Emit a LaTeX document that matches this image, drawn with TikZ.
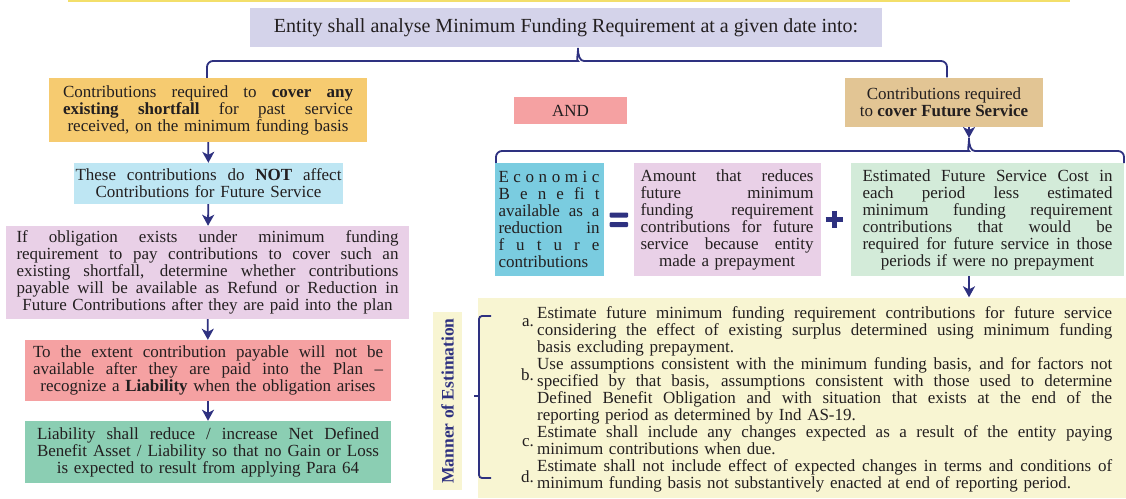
\documentclass[tikz,border=0pt]{standalone}
\usepackage{fontspec}
\setmainfont{Liberation Serif}
\usetikzlibrary{arrows.meta}
\definecolor{navy}{HTML}{2E3180}
\definecolor{txt}{HTML}{231F20}
\definecolor{ctitle}{HTML}{D4D3EA}
\definecolor{corange}{HTML}{F6CB70}
\definecolor{cblue}{HTML}{BEE6F3}
\definecolor{cpurple}{HTML}{E9D0E7}
\definecolor{cred}{HTML}{F5A1A2}
\definecolor{cgreen}{HTML}{8BCEB3}
\definecolor{ctan}{HTML}{E2C594}
\definecolor{ccyan}{HTML}{7ACCE0}
\definecolor{clgreen}{HTML}{D3EBD9}
\definecolor{cyell}{HTML}{F8F5D2}
\definecolor{ctopline}{HTML}{F3DF6A}
\newcommand\JL[1]{\makebox[\linewidth][s]{\spaceskip=0pt\xspaceskip=0pt\relax #1}\\}
\newcommand\SPL[1]{\makebox[\linewidth][s]{#1}}
\tikzset{
  box/.style={rectangle, inner sep=0pt, text=txt, align=center,
    font=\fontsize{17}{17}\selectfont},
  conn/.style={draw=navy, line width=1.8pt, -{Stealth[length=11pt,width=12pt,inset=3pt]}},
  brace/.style={draw=navy, line width=1.8pt, rounded corners=6pt},
}
\begin{document}
\begin{tikzpicture}[x=1pt,y=-1pt]
\useasboundingbox (0,0) rectangle (1126,498);
\draw[ctopline, line width=3pt] (68,0) -- (1070,0);
% title
\node[box, fill=ctitle, minimum width=632pt, minimum height=39pt,
  font=\fontsize{20}{22}\selectfont] (title) at (566,27.5)
  {Entity shall analyse Minimum Funding Requirement at a given date into:};
% left column
\node[box, fill=corange, minimum width=318pt, minimum height=64pt, text width=290pt] (short) at (208,110)
  {\JL{Contributions required to \textbf{cover any}}\JL{\textbf{existing shortfall} for past service}received, on the minimum funding basis};
\node[box, fill=cblue, minimum width=269pt, minimum height=41pt, text width=266pt] (notaff) at (208.5,183.5)
  {\JL{These contributions do \textbf{NOT} affect}Contributions for Future Service};
\node[box, fill=cpurple, minimum width=403pt, minimum height=93pt, text width=382pt] (oblig) at (207.5,272.5)
  {\JL{If obligation exists under minimum funding}\JL{requirement to pay contributions to cover such an}\JL{existing shortfall, determine whether contributions}\JL{payable will be available as Refund or Reduction in}Future Contributions after they are paid into the plan};
\node[box, fill=cred, minimum width=366pt, minimum height=61pt, text width=350pt] (liab) at (208,370.5)
  {\JL{To the extent contribution payable will not be}\JL{available after they are paid into the Plan –}recognize a \textbf{Liability} when the obligation arises};
\node[box, fill=cgreen, minimum width=366pt, minimum height=62pt, text width=342pt] (reduce) at (208,452)
  {\JL{Liability shall reduce / increase Net Defined}\JL{Benefit Asset / Liability so that no Gain or Loss}is expected to result from applying Para 64};
\draw[conn] (short) -- (notaff);
\draw[conn] (notaff) -- (oblig);
\draw[conn] (oblig) -- (liab);
\draw[conn] (liab) -- (reduce);
% AND
\node[box, fill=cred, minimum width=113pt, minimum height=27pt] (and) at (570.5,110.5) {AND};
% future service
\node[box, fill=ctan, minimum width=198pt, minimum height=49pt] (future) at (944,102)
  {Contributions required\\to \textbf{cover Future Service}};
% top brace
\coordinate (tip) at (578,48);
\draw[brace] (short.north -| 207,0) -- (207,61) -- (572,61) [sharp corners] .. controls (576,61) and (578,56) .. (tip)
  .. controls (578,56) and (580,61) .. (584,61) [rounded corners=6pt] -- (947,61) -- (future.north -| 947,0);
% second row
\node[box, fill=ccyan, minimum width=109pt, minimum height=113pt, text width=101pt, align=left] (econ) at (549,219.5)
  {\SPL{E\hfil c\hfil o\hfil n\hfil o\hfil m\hfil i\hfil c}\\\SPL{B\hfil e\hfil n\hfil e\hfil fi\hfil t}\\\JL{available as a}\JL{reduction in}\SPL{f\hfil u\hfil t\hfil u\hfil r\hfil e}\\contributions};
\node[box, fill=cpurple, minimum width=187pt, minimum height=113pt, text width=173pt] (amount) at (727,219.5)
  {\JL{Amount that reduces}\JL{future minimum}\JL{funding requirement}\JL{contributions for future}\JL{service because entity}made a prepayment};
\node[box, fill=clgreen, minimum width=273pt, minimum height=113pt, text width=250pt] (est) at (987.5,219.5)
  {\JL{Estimated Future Service Cost in}\JL{each period less estimated}\JL{minimum funding requirement}\JL{contributions that would be}\JL{required for future service in those}periods if were no prepayment};
% equals and plus
\fill[navy, rounded corners=1pt] (609.5,212.5) rectangle (628,217.5);
\fill[navy, rounded corners=1pt] (609.5,222) rectangle (628,227);
\draw[navy, line width=5pt] (825.5,219) -- (842.5,219);
\draw[navy, line width=5pt] (834,210.5) -- (834,227.5);
% second brace
\coordinate (tip2) at (969,138);
\draw[brace] (econ.north -| 496,0) -- (496,151) -- (963,151) [sharp corners] .. controls (967,151) and (969,146) .. (tip2)
  .. controls (969,146) and (971,151) .. (975,151) [rounded corners=6pt] -- (1124,151) -- (1124,163);
\draw[conn] (future.south -| tip2) -- (tip2);
% list
\node[rectangle, fill=cyell, minimum width=648pt, minimum height=200pt, inner sep=0pt] (list) at (802,397.5) {};
\draw[conn] (est.south -| tip2) -- (list.north -| tip2);
\node[rectangle, fill=cyell, minimum width=29pt, minimum height=178pt, inner sep=0pt] (mannerbg) at (447.5,401) {};
\node[rotate=90, text=navy, font=\bfseries\fontsize{17.5}{18}\selectfont, inner sep=0pt] (manner) at (mannerbg.center) {Manner of Estimation};
\coordinate (brk) at (474,396);
\draw[brace, rounded corners=3pt] (491,316) -- (479,316) -- (479,478) -- (491,478);
\draw[navy, line width=1.8pt] (brk) -- (479,396);
\node[box, anchor=north west, text width=575pt, align=left, font=\fontsize{17}{17}\selectfont] (items) at (537,306)
  {\JL{Estimate future minimum funding requirement contributions for future service}\JL{considering the effect of existing surplus determined using minimum funding}basis excluding prepayment.\\
   \JL{Use assumptions consistent with the minimum funding basis, and for factors not}\JL{specified by that basis, assumptions consistent with those used to determine}\JL{Defined Benefit Obligation and with situation that exists at the end of the}reporting period as determined by Ind AS-19.\\
   \JL{Estimate shall include any changes expected as a result of the entity paying}minimum contributions when due.\\
   \JL{Estimate shall not include effect of expected changes in terms and conditions of}minimum funding basis not substantively enacted at end of reporting period.};
\tikzset{lab/.style={text=txt, font=\fontsize{17}{17}\selectfont, inner sep=0pt, anchor=east}}
\node[lab] (la) at (534,323) {a.};
\node[lab] (lb) at (534,375) {b.};
\node[lab] (lc) at (534,443) {c.};
\node[lab] (ld) at (534,477) {d.};
\end{tikzpicture}
\end{document}
